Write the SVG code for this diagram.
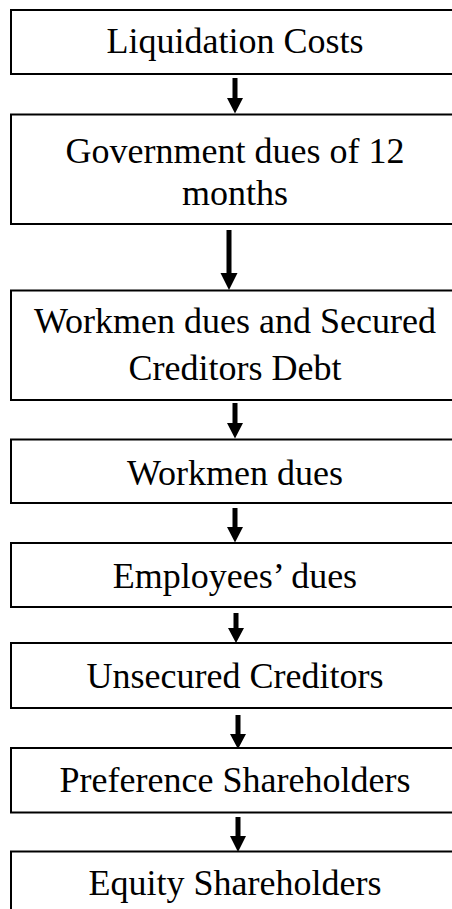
<svg xmlns="http://www.w3.org/2000/svg" width="452" height="909" viewBox="0 0 452 909">
<style>
.box{fill:#ffffff;stroke:#000000;stroke-width:2}
.lbl{font-family:"Liberation Serif","DejaVu Serif",serif;font-size:36px;fill:#000000;text-anchor:middle}
.arr{fill:#000000;stroke:none}
</style>
<rect x="0" y="0" width="452" height="909" fill="#ffffff"/>
<g id="n1"><rect class="box" x="11" y="10" width="450" height="64"/><text class="lbl" x="235" y="53">Liquidation Costs</text></g>
<g id="n2"><rect class="box" x="11" y="114.5" width="450" height="109.5"/><text class="lbl" x="235" y="163">Government dues of 12</text><text class="lbl" x="235" y="205">months</text></g>
<g id="n3"><rect class="box" x="11" y="290.5" width="450" height="109.5"/><text class="lbl" x="235" y="333">Workmen dues and Secured</text><text class="lbl" x="235" y="380">Creditors Debt</text></g>
<g id="n4"><rect class="box" x="11" y="439.5" width="450" height="63.5"/><text class="lbl" x="235" y="485">Workmen dues</text></g>
<g id="n5"><rect class="box" x="11" y="543" width="450" height="64"/><text class="lbl" x="235" y="588">Employees’ dues</text></g>
<g id="n6"><rect class="box" x="11" y="643" width="450" height="65"/><text class="lbl" x="235" y="688">Unsecured Creditors</text></g>
<g id="n7"><rect class="box" x="11" y="748" width="450" height="64.5"/><text class="lbl" x="235" y="792">Preference Shareholders</text></g>
<g id="n8"><rect class="box" x="11" y="851.5" width="450" height="80"/><text class="lbl" x="235" y="895">Equity Shareholders</text></g>
<g id="connectors">
<path class="arr" d="M232.5 78 H237.5 V98 H243 L235 113.5 L227 98 H232.5 Z"/>
<path class="arr" d="M226.5 230 H231.5 V273 H237.5 L229 290 L220.5 273 H226.5 Z"/>
<path class="arr" d="M232.5 403 H237.5 V423 H243 L235 438.5 L227 423 H232.5 Z"/>
<path class="arr" d="M232.5 508 H237.5 V527 H243 L235 542.5 L227 527 H232.5 Z"/>
<path class="arr" d="M233.5 613 H238.5 V628 H244 L236 643 L228 628 H233.5 Z"/>
<path class="arr" d="M235.5 715 H240.5 V734 H246 L238 749 L230 734 H235.5 Z"/>
<path class="arr" d="M235.5 817 H240.5 V836 H246 L238 852 L230 836 H235.5 Z"/>
</g>
</svg>
